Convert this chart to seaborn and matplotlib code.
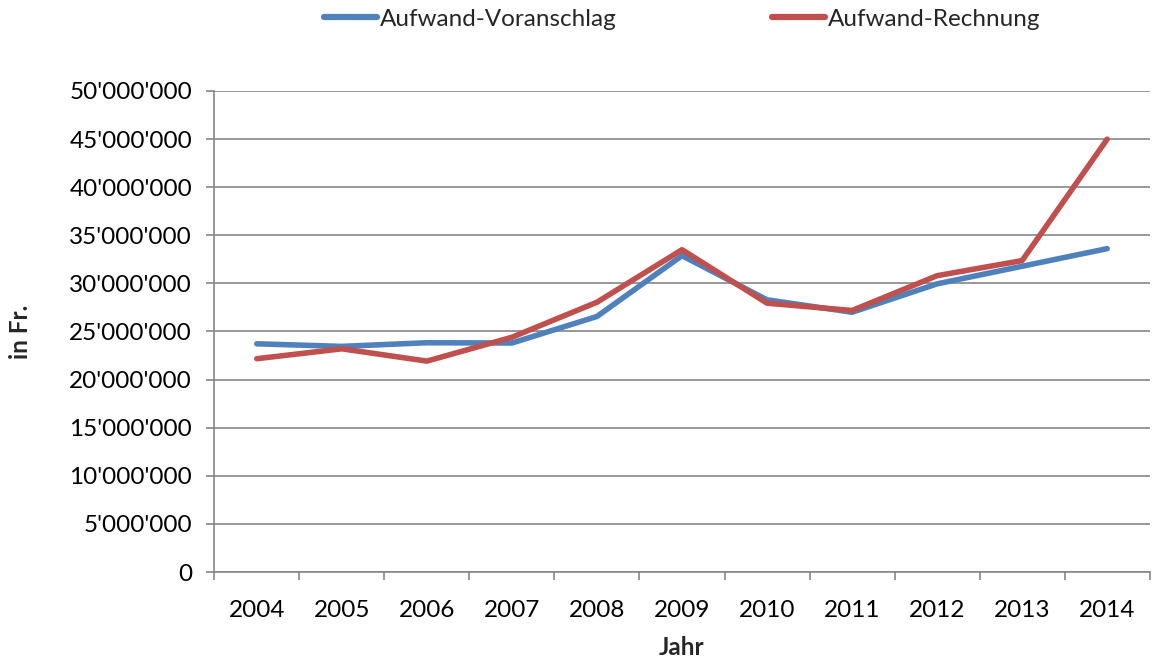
import matplotlib
matplotlib.use("Agg")
import matplotlib.pyplot as plt
import matplotlib.ticker as mticker
import numpy as np
import pandas as pd
import seaborn as sns

years = [2004, 2005, 2006, 2007, 2008, 2009, 2010, 2011, 2012, 2013, 2014]
voranschlag = [23.72, 23.45, 23.83, 23.80, 26.56, 32.88, 28.29, 27.00, 29.95, 31.78, 33.61]
rechnung = [22.17, 23.20, 21.92, 24.40, 28.04, 33.50, 27.94, 27.18, 30.80, 32.37, 44.99]
series_names = ["Aufwand-Voranschlag", "Aufwand-Rechnung"]
colors = ["#4F81BD", "#C0504D"]

df = pd.DataFrame({
    "Jahr": years * 2,
    "Wert": [v * 1e6 for v in voranschlag + rechnung],
    "Serie": [series_names[0]] * len(years) + [series_names[1]] * len(years),
})

sns.set_theme(style="white")
plt.rcParams["font.family"] = ["Lato", "DejaVu Sans"]
fs = 17.5

fig = plt.figure(figsize=(11.52, 6.59), dpi=100)
ax = fig.add_axes([0.186, 0.132, 0.812, 0.730])

sns.lineplot(data=df, x="Jahr", y="Wert", hue="Serie", palette=colors,
             linewidth=4.0, ax=ax, legend=False, zorder=3)

grid_color = "#868686"
ax.set_ylim(0, 50e6)
ax.set_xlim(years[0] - 0.5, years[-1] + 0.5)
ax.yaxis.set_major_locator(mticker.MultipleLocator(5e6))
ax.yaxis.set_major_formatter(mticker.FuncFormatter(
    lambda v, p: "{:,.0f}".format(v).replace(",", "'")))
ax.set_xticks(years)
ax.set_xticklabels([str(y) for y in years])
ax.set_xticks(np.arange(years[0] - 0.5, years[-1] + 1.0, 1.0), minor=True)

ax.grid(axis="y", color=grid_color, linewidth=1.2, zorder=0)
ax.set_axisbelow(True)
for side in ["top", "right"]:
    ax.spines[side].set_visible(False)
for side in ["left", "bottom"]:
    ax.spines[side].set_color(grid_color)
    ax.spines[side].set_linewidth(1.2)

ax.tick_params(axis="x", which="major", length=0, pad=20, labelsize=fs, colors="black")
ax.tick_params(axis="x", which="minor", length=6, width=1.2, color=grid_color, bottom=True)
ax.tick_params(axis="y", which="major", length=6, width=1.2, color=grid_color,
               left=True, pad=10, labelsize=fs, labelcolor="black")

ax.set_xlabel("Jahr", fontsize=fs, fontweight="bold")
ax.xaxis.set_label_coords(0.5, -0.133)
ax.set_ylabel("in Fr.", fontsize=fs, fontweight="bold", va="center")
ax.yaxis.set_label_coords(-0.207, 0.5)

handles = [plt.Line2D([], [], color=c, linewidth=4.5, solid_capstyle="round") for c in colors]
fig.legend(handles, series_names, loc="upper center", bbox_to_anchor=(0.592, 1.02),
           ncol=2, frameon=False, fontsize=fs, handlelength=2.2, handletextpad=0.1,
           columnspacing=6.4)

fig.savefig("out.png", dpi=100, facecolor="white")
